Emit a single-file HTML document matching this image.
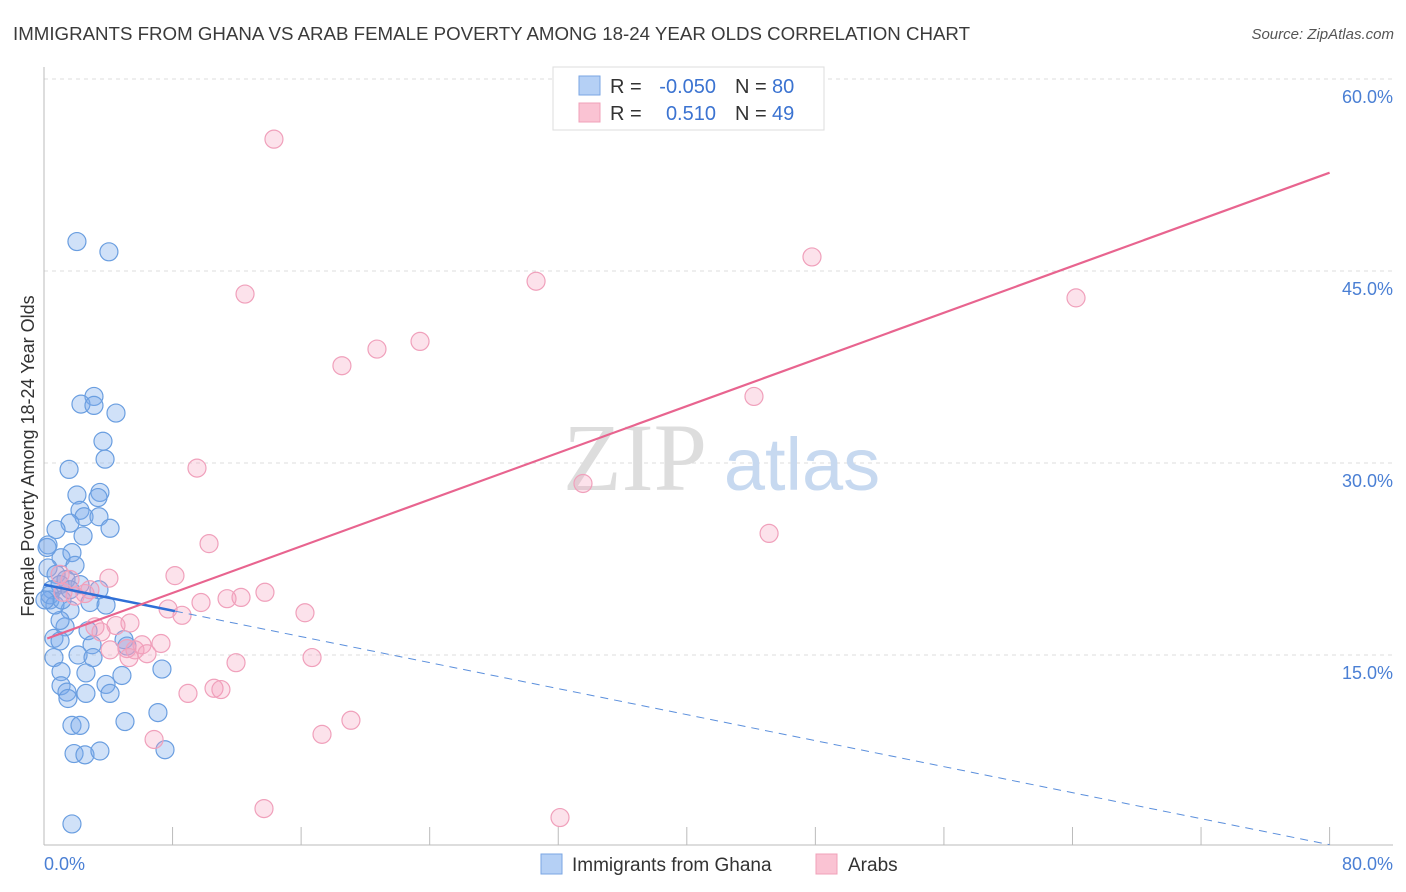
<!DOCTYPE html>
<html><head><meta charset="utf-8"><style>
body{margin:0;background:#fff;width:1406px;height:892px;overflow:hidden}
svg{display:block;font-family:"Liberation Sans",sans-serif}
</style></head><body>
<svg id="chart" width="1406" height="892">
<text x="13" y="40" font-size="18" fill="#3a3a3a" textLength="957" lengthAdjust="spacingAndGlyphs">IMMIGRANTS FROM GHANA VS ARAB FEMALE POVERTY AMONG 18-24 YEAR OLDS CORRELATION CHART</text>
<text x="1394" y="39" font-size="15" fill="#555" font-style="italic" text-anchor="end">Source: ZipAtlas.com</text>
<g id="grid"></g>
<text x="635" y="490" font-size="96" fill="#ddd" font-family="Liberation Serif,serif" text-anchor="middle">ZIP</text>
<text x="802" y="490" font-size="74" fill="#c7d9f0" text-anchor="middle">atlas</text>
<g id="axes"></g>
<g id="marks"></g>
<text transform="translate(34,456) rotate(-90)" font-size="18" fill="#333" text-anchor="middle">Female Poverty Among 18-24 Year Olds</text>
<text x="44" y="870" font-size="18" fill="#4a7fd4">0.0%</text>
<text x="1393" y="870" font-size="18" fill="#4a7fd4" text-anchor="end">80.0%</text>
<g>
<rect x="553" y="67" width="271" height="63" fill="#fff" stroke="#ddd"/>
<rect x="579" y="76" width="21" height="19" fill="#b5d0f5" stroke="#7aa6e3"/>
<rect x="579" y="103" width="21" height="19" fill="#fac3d3" stroke="#f0a0b8"/>
<text x="610" y="93" font-size="20" fill="#333">R = </text><text x="716" y="93" font-size="20" fill="#3b73d1" text-anchor="end">-0.050</text>
<text x="735" y="93" font-size="20" fill="#333">N = </text><text x="772" y="93" font-size="20" fill="#3b73d1">80</text>
<text x="610" y="120" font-size="20" fill="#333">R = </text><text x="716" y="120" font-size="20" fill="#3b73d1" text-anchor="end">0.510</text>
<text x="735" y="120" font-size="20" fill="#333">N = </text><text x="772" y="120" font-size="20" fill="#3b73d1">49</text>
</g>
<g>
<rect x="541" y="854" width="21" height="20" fill="#b5d0f5" stroke="#7aa6e3"/>
<text x="572" y="871" font-size="19" fill="#333">Immigrants from Ghana</text>
<rect x="816" y="854" width="21" height="20" fill="#fac3d3" stroke="#f0a0b8"/>
<text x="848" y="871" font-size="19" fill="#333">Arabs</text>
</g>
</svg>
<script>
const yTicks=[15,30,45,60];
const yTickLabels=["15.0%","30.0%","45.0%","60.0%"];
const ghanaX=[2.05,4.04,3.11,2.30,3.11,4.48,3.67,3.80,1.56,2.05,3.48,3.36,2.24,2.49,1.62,3.42,4.11,0.75,2.43,0.25,1.06,1.74,0.25,1.93,0.75,1.37,0.50,1.00,2.24,3.42,0.37,1.62,2.86,3.86,1.31,1.00,2.74,0.62,1.00,4.98,5.16,2.99,2.12,3.05,0.62,7.34,1.06,2.61,4.85,3.86,1.06,1.43,4.11,2.61,1.49,7.09,5.04,1.74,2.24,1.87,2.55,3.48,7.53,1.74,0.37,0.68,1.12,1.62,0.06,0.19];
const ghanaY=[47.3,46.5,35.2,34.6,34.5,33.9,31.7,30.3,29.5,27.5,27.7,27.3,26.3,25.8,25.3,25.8,24.9,24.8,24.3,23.6,22.6,23.0,21.8,22.0,21.3,20.9,20.1,20.5,20.5,20.1,19.3,18.5,19.1,18.9,17.2,17.7,16.9,16.3,16.1,16.2,15.7,15.8,15.0,14.8,14.8,13.9,13.7,13.6,13.4,12.7,12.6,12.1,12.0,12.0,11.6,10.5,9.8,9.5,9.5,7.3,7.2,7.5,7.6,1.8,19.7,18.9,19.3,20.1,19.3,23.4];
const arabX=[14.31,12.51,30.62,47.79,64.22,23.40,20.72,18.54,44.18,9.52,33.54,45.12,10.27,4.04,8.15,13.75,12.26,11.39,9.77,16.24,7.72,8.59,5.35,3.55,4.48,3.17,5.16,6.10,7.28,5.66,6.41,5.29,16.68,11.95,8.96,10.58,11.01,19.10,17.30,6.85,13.69,32.11,1.00,1.62,2.55,1.93,2.86,1.18,4.11];
const arabY=[55.3,43.2,44.2,46.1,42.9,39.5,38.9,37.6,35.2,29.6,28.4,24.5,23.7,21.0,21.2,19.9,19.5,19.4,19.1,18.3,18.6,18.1,17.5,16.8,17.3,17.2,15.5,15.8,15.9,15.4,15.1,14.8,14.8,14.4,12.0,12.4,12.3,9.9,8.8,8.4,3.0,2.3,21.3,20.9,19.8,19.6,20.1,19.9,15.4];
const ghanaTrend=[20.5,-0.254];
const arabTrend=[16.2,0.456];
const ns="http://www.w3.org/2000/svg";
const X=v=>44+v*16.07, Y=v=>847-v*12.8;
function mk(parent,tag,attrs){const e=document.createElementNS(ns,tag);for(const k in attrs)e.setAttribute(k,attrs[k]);document.getElementById(parent).appendChild(e);return e;}
yTicks.forEach((t,i)=>{
 const l=mk('grid','line',{x1:44,x2:1393,y1:Y(t),y2:Y(t),stroke:'#ddd','stroke-dasharray':'4,4'});
 
 
 const tx=mk('grid','text',{x:1393,y:Y(t)+24,'font-size':18,fill:'#4a7fd4','text-anchor':'end'});
 tx.textContent=yTickLabels[i];
 
 
});
const ya=mk('axes','line',{x1:44,x2:44,y1:67,y2:845,stroke:'#bbb'});


const xa=mk('axes','line',{x1:44,x2:1393,y1:845,y2:845,stroke:'#bbb'});


for(let i=1;i<=10;i++){const t=mk('axes','line',{x1:X(i*8),x2:X(i*8),y1:827,y2:845,stroke:'#bbb'});
 
 }
ghanaX.forEach((x,i)=>{const c=mk('marks','circle',{cx:X(x),cy:Y(ghanaY[i]),r:9,fill:'rgba(120,170,235,0.35)',stroke:'#6a9ee0','stroke-width':1.2});
 
 });
arabX.forEach((x,i)=>{const c=mk('marks','circle',{cx:X(x),cy:Y(arabY[i]),r:9,fill:'rgba(245,160,190,0.3)',stroke:'#f0a0bb','stroke-width':1.2});
 
 });
const gEnd=8.15;
const g1=mk('marks','line',{x1:X(0),y1:Y(ghanaTrend[0]),x2:X(gEnd),y2:Y(ghanaTrend[0]+ghanaTrend[1]*gEnd),stroke:'#2f6fd6','stroke-width':2.5});


const g2=mk('marks','line',{x1:X(gEnd),y1:Y(ghanaTrend[0]+ghanaTrend[1]*gEnd),x2:X(80),y2:Y(ghanaTrend[0]+ghanaTrend[1]*80),stroke:'#5b8fdc','stroke-width':1,'stroke-dasharray':'8,6'});


const a1=mk('marks','line',{x1:X(0.2),y1:Y(arabTrend[0]+arabTrend[1]*0.2),x2:X(80),y2:Y(arabTrend[0]+arabTrend[1]*80),stroke:'#e8648f','stroke-width':2.2});


</script>
</body></html>
